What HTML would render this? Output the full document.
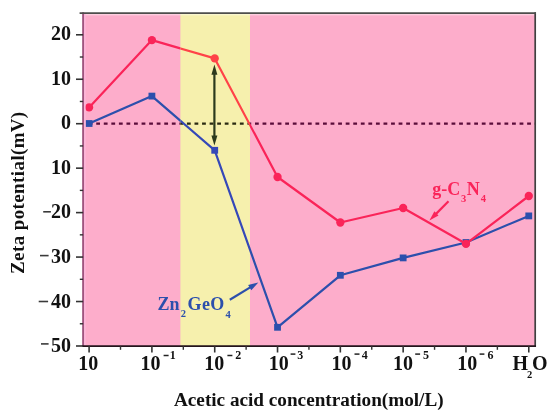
<!DOCTYPE html>
<html><head><meta charset="utf-8"><style>
html,body{margin:0;padding:0;background:#fff;width:550px;height:418px;overflow:hidden}
svg{display:block;filter:blur(0.3px)}
</style></head><body>
<svg width="550" height="418" viewBox="0 0 550 418">
<defs><clipPath id="cy"><rect x="180.4" y="13.1" width="69.6" height="333.0"/></clipPath><clipPath id="cp"><path d="M0 0H180.4V418H0Z M250.0 0H550V418H250.0Z"/></clipPath></defs>
<rect x="83.1" y="13.1" width="452.1" height="333.0" fill="#fdadcb"/>
<rect x="180.4" y="13.1" width="69.6" height="333.0" fill="#f6f0ad"/>
<g clip-path="url(#cp)"><line x1="83.1" y1="123.70" x2="535.2" y2="123.70" stroke="#5a0c3a" stroke-width="2.3" stroke-dasharray="3.8 3.76" stroke-dashoffset="2.0"/><polyline points="89.10,123.5 151.91,96.1 214.72,150.3 277.53,327.3 340.34,275.3 403.15,257.9 465.96,242.5 528.77,215.9" fill="none" stroke="#2c4fac" stroke-width="2.2" stroke-linejoin="round"/><rect x="85.70" y="120.10" width="6.8" height="6.8" fill="#2c4fac"/><rect x="148.51" y="92.70" width="6.8" height="6.8" fill="#2c4fac"/><rect x="211.32" y="146.90" width="6.8" height="6.8" fill="#2c4fac"/><rect x="274.13" y="323.90" width="6.8" height="6.8" fill="#2c4fac"/><rect x="336.94" y="271.90" width="6.8" height="6.8" fill="#2c4fac"/><rect x="399.75" y="254.50" width="6.8" height="6.8" fill="#2c4fac"/><rect x="462.56" y="239.10" width="6.8" height="6.8" fill="#2c4fac"/><rect x="525.37" y="212.50" width="6.8" height="6.8" fill="#2c4fac"/><polyline points="89.10,107.4 151.91,40.1 214.72,58.4 277.53,177.0 340.34,222.5 403.15,208.0 465.96,243.8 528.77,196.0" fill="none" stroke="#fa2459" stroke-width="2.2" stroke-linejoin="round"/><circle cx="89.10" cy="107.4" r="4.15" fill="#fa2459"/><circle cx="151.91" cy="40.1" r="4.15" fill="#fa2459"/><circle cx="214.72" cy="58.4" r="4.15" fill="#fa2459"/><circle cx="277.53" cy="177.0" r="4.15" fill="#fa2459"/><circle cx="340.34" cy="222.5" r="4.15" fill="#fa2459"/><circle cx="403.15" cy="208.0" r="4.15" fill="#fa2459"/><circle cx="465.96" cy="243.8" r="4.15" fill="#fa2459"/><circle cx="528.77" cy="196.0" r="4.15" fill="#fa2459"/></g>
<g clip-path="url(#cy)"><line x1="83.1" y1="123.70" x2="535.2" y2="123.70" stroke="#2a2a12" stroke-width="2.3" stroke-dasharray="3.8 3.76" stroke-dashoffset="2.0"/><polyline points="89.10,123.5 151.91,96.1 214.72,150.3 277.53,327.3 340.34,275.3 403.15,257.9 465.96,242.5 528.77,215.9" fill="none" stroke="#3548b8" stroke-width="2.2" stroke-linejoin="round"/><rect x="85.70" y="120.10" width="6.8" height="6.8" fill="#3548b8"/><rect x="148.51" y="92.70" width="6.8" height="6.8" fill="#3548b8"/><rect x="211.32" y="146.90" width="6.8" height="6.8" fill="#3548b8"/><rect x="274.13" y="323.90" width="6.8" height="6.8" fill="#3548b8"/><rect x="336.94" y="271.90" width="6.8" height="6.8" fill="#3548b8"/><rect x="399.75" y="254.50" width="6.8" height="6.8" fill="#3548b8"/><rect x="462.56" y="239.10" width="6.8" height="6.8" fill="#3548b8"/><rect x="525.37" y="212.50" width="6.8" height="6.8" fill="#3548b8"/><polyline points="89.10,107.4 151.91,40.1 214.72,58.4 277.53,177.0 340.34,222.5 403.15,208.0 465.96,243.8 528.77,196.0" fill="none" stroke="#ff4348" stroke-width="2.2" stroke-linejoin="round"/><circle cx="89.10" cy="107.4" r="4.15" fill="#ff4348"/><circle cx="151.91" cy="40.1" r="4.15" fill="#ff4348"/><circle cx="214.72" cy="58.4" r="4.15" fill="#ff4348"/><circle cx="277.53" cy="177.0" r="4.15" fill="#ff4348"/><circle cx="340.34" cy="222.5" r="4.15" fill="#ff4348"/><circle cx="403.15" cy="208.0" r="4.15" fill="#ff4348"/><circle cx="465.96" cy="243.8" r="4.15" fill="#ff4348"/><circle cx="528.77" cy="196.0" r="4.15" fill="#ff4348"/></g>
<line x1="214.4" y1="72" x2="214.4" y2="138" stroke="#2c3a1c" stroke-width="2.2"/>
<polygon points="214.4,64.6 217.4,74.8 211.4,74.8" fill="#2c3a1c"/>
<polygon points="214.4,145.4 217.4,135.4 211.4,135.4" fill="#2c3a1c"/>
<line x1="448.5" y1="201.3" x2="435.75" y2="214.12" stroke="#fa2459" stroke-width="2.2"/><polygon points="429.4,220.5 434.40,211.37 438.51,215.46" fill="#fa2459"/>
<line x1="229.8" y1="299.7" x2="250.59" y2="287.15" stroke="#2c4fac" stroke-width="2.2"/><polygon points="258.3,282.5 251.34,290.32 248.14,285.01" fill="#2c4fac"/>
<rect x="84.0" y="14.0" width="450.3" height="1.4" fill="#fff" fill-opacity="0.4"/>
<rect x="84.0" y="14.0" width="1.6" height="331.2" fill="#feb8dc"/>
<line x1="83.1" y1="12.299999999999999" x2="83.1" y2="346.1" stroke="#a0557f" stroke-width="1.9"/>
<line x1="535.2" y1="12.299999999999999" x2="535.2" y2="346.90000000000003" stroke="#404040" stroke-width="1.7"/>
<line x1="79.6" y1="13.1" x2="536.0" y2="13.1" stroke="#4e4e4c" stroke-width="1.9"/>
<line x1="82.3" y1="346.1" x2="536.0" y2="346.1" stroke="#24141c" stroke-width="1.7"/>
<line x1="76.0" y1="34.79" x2="83.1" y2="34.79" stroke="#333333" stroke-width="1.6"/>
<line x1="76.0" y1="79.24" x2="83.1" y2="79.24" stroke="#333333" stroke-width="1.6"/>
<line x1="76.0" y1="123.70" x2="83.1" y2="123.70" stroke="#333333" stroke-width="1.6"/>
<line x1="76.0" y1="168.16" x2="83.1" y2="168.16" stroke="#333333" stroke-width="1.6"/>
<line x1="76.0" y1="212.61" x2="83.1" y2="212.61" stroke="#333333" stroke-width="1.6"/>
<line x1="76.0" y1="257.07" x2="83.1" y2="257.07" stroke="#333333" stroke-width="1.6"/>
<line x1="76.0" y1="301.53" x2="83.1" y2="301.53" stroke="#333333" stroke-width="1.6"/>
<line x1="76.0" y1="345.99" x2="83.1" y2="345.99" stroke="#333333" stroke-width="1.6"/>
<line x1="79.8" y1="57.01" x2="83.1" y2="57.01" stroke="#333333" stroke-width="1.4"/>
<line x1="79.8" y1="101.47" x2="83.1" y2="101.47" stroke="#333333" stroke-width="1.4"/>
<line x1="79.8" y1="145.93" x2="83.1" y2="145.93" stroke="#333333" stroke-width="1.4"/>
<line x1="79.8" y1="190.39" x2="83.1" y2="190.39" stroke="#333333" stroke-width="1.4"/>
<line x1="79.8" y1="234.84" x2="83.1" y2="234.84" stroke="#333333" stroke-width="1.4"/>
<line x1="79.8" y1="279.30" x2="83.1" y2="279.30" stroke="#333333" stroke-width="1.4"/>
<line x1="79.8" y1="323.76" x2="83.1" y2="323.76" stroke="#333333" stroke-width="1.4"/>
<line x1="89.10" y1="346.1" x2="89.10" y2="352.5" stroke="#333333" stroke-width="1.6"/>
<line x1="151.91" y1="346.1" x2="151.91" y2="352.5" stroke="#333333" stroke-width="1.6"/>
<line x1="214.72" y1="346.1" x2="214.72" y2="352.5" stroke="#333333" stroke-width="1.6"/>
<line x1="277.53" y1="346.1" x2="277.53" y2="352.5" stroke="#333333" stroke-width="1.6"/>
<line x1="340.34" y1="346.1" x2="340.34" y2="352.5" stroke="#333333" stroke-width="1.6"/>
<line x1="403.15" y1="346.1" x2="403.15" y2="352.5" stroke="#333333" stroke-width="1.6"/>
<line x1="465.96" y1="346.1" x2="465.96" y2="352.5" stroke="#333333" stroke-width="1.6"/>
<line x1="528.77" y1="346.1" x2="528.77" y2="352.5" stroke="#333333" stroke-width="1.6"/>
<line x1="120.50" y1="346.1" x2="120.50" y2="349.8" stroke="#333333" stroke-width="1.4"/>
<line x1="183.31" y1="346.1" x2="183.31" y2="349.8" stroke="#333333" stroke-width="1.4"/>
<line x1="246.12" y1="346.1" x2="246.12" y2="349.8" stroke="#333333" stroke-width="1.4"/>
<line x1="308.94" y1="346.1" x2="308.94" y2="349.8" stroke="#333333" stroke-width="1.4"/>
<line x1="371.75" y1="346.1" x2="371.75" y2="349.8" stroke="#333333" stroke-width="1.4"/>
<line x1="434.56" y1="346.1" x2="434.56" y2="349.8" stroke="#333333" stroke-width="1.4"/>
<line x1="497.37" y1="346.1" x2="497.37" y2="349.8" stroke="#333333" stroke-width="1.4"/>
<text x="71.0" y="40.30" font-family="Liberation Serif" font-weight="bold" font-size="20" text-anchor="end" fill="#111">20</text>
<text x="71.0" y="84.90" font-family="Liberation Serif" font-weight="bold" font-size="20" text-anchor="end" fill="#111">10</text>
<text x="71.0" y="129.40" font-family="Liberation Serif" font-weight="bold" font-size="20" text-anchor="end" fill="#111">0</text>
<text x="71.0" y="174.00" font-family="Liberation Serif" font-weight="bold" font-size="20" text-anchor="end" fill="#111">10</text>
<text x="71.0" y="218.30" font-family="Liberation Serif" font-weight="bold" font-size="20" text-anchor="end" fill="#111">20</text>
<text x="71.0" y="262.80" font-family="Liberation Serif" font-weight="bold" font-size="20" text-anchor="end" fill="#111">30</text>
<text x="71.0" y="307.60" font-family="Liberation Serif" font-weight="bold" font-size="20" text-anchor="end" fill="#111">40</text>
<text x="71.0" y="351.60" font-family="Liberation Serif" font-weight="bold" font-size="20" text-anchor="end" fill="#111">50</text>
<line x1="43.2" y1="211.8" x2="50.9" y2="211.8" stroke="#3a3a3a" stroke-width="1.6"/>
<line x1="40.0" y1="255.6" x2="48.6" y2="255.6" stroke="#3a3a3a" stroke-width="1.6"/>
<line x1="38.7" y1="301.5" x2="48.1" y2="301.5" stroke="#3a3a3a" stroke-width="1.6"/>
<line x1="41.0" y1="343.9" x2="48.6" y2="343.9" stroke="#3a3a3a" stroke-width="1.6"/>
<text x="88.20" y="369.6" font-family="Liberation Serif" font-weight="bold" font-size="20" text-anchor="middle" fill="#111">10</text>
<text x="150.55" y="369.6" font-family="Liberation Serif" font-weight="bold" font-size="20" text-anchor="middle" fill="#111">10</text>
<line x1="163.60" y1="355.5" x2="168.60" y2="355.5" stroke="#222" stroke-width="1.5"/>
<text x="172.85" y="359.3" font-family="Liberation Serif" font-weight="bold" font-size="12" text-anchor="middle" fill="#111">1</text>
<text x="214.25" y="369.6" font-family="Liberation Serif" font-weight="bold" font-size="20" text-anchor="middle" fill="#111">10</text>
<line x1="227.40" y1="355.5" x2="232.40" y2="355.5" stroke="#222" stroke-width="1.5"/>
<text x="238.25" y="359.3" font-family="Liberation Serif" font-weight="bold" font-size="12" text-anchor="middle" fill="#111">2</text>
<text x="278.65" y="369.6" font-family="Liberation Serif" font-weight="bold" font-size="20" text-anchor="middle" fill="#111">10</text>
<line x1="290.60" y1="354.1" x2="295.40" y2="354.1" stroke="#222" stroke-width="1.5"/>
<text x="300.25" y="359.3" font-family="Liberation Serif" font-weight="bold" font-size="12" text-anchor="middle" fill="#111">3</text>
<text x="341.50" y="369.6" font-family="Liberation Serif" font-weight="bold" font-size="20" text-anchor="middle" fill="#111">10</text>
<line x1="354.50" y1="354.1" x2="359.50" y2="354.1" stroke="#222" stroke-width="1.5"/>
<text x="364.65" y="359.3" font-family="Liberation Serif" font-weight="bold" font-size="12" text-anchor="middle" fill="#111">4</text>
<text x="402.90" y="369.6" font-family="Liberation Serif" font-weight="bold" font-size="20" text-anchor="middle" fill="#111">10</text>
<line x1="415.20" y1="354.1" x2="420.10" y2="354.1" stroke="#222" stroke-width="1.5"/>
<text x="426.05" y="359.3" font-family="Liberation Serif" font-weight="bold" font-size="12" text-anchor="middle" fill="#111">5</text>
<text x="467.30" y="369.6" font-family="Liberation Serif" font-weight="bold" font-size="20" text-anchor="middle" fill="#111">10</text>
<line x1="479.60" y1="354.1" x2="484.40" y2="354.1" stroke="#222" stroke-width="1.5"/>
<text x="490.45" y="359.3" font-family="Liberation Serif" font-weight="bold" font-size="12" text-anchor="middle" fill="#111">6</text>
<text x="512.5" y="370.2" font-family="Liberation Serif" font-weight="bold" font-size="20" fill="#111">H<tspan font-size="10.5" dy="7.6" dx="-1.0">2</tspan><tspan dy="-7.6" dx="-0.2">O</tspan></text>
<text x="174" y="406.2" font-family="Liberation Serif" font-weight="bold" font-size="19.2" fill="#111">Acetic acid concentration(mol/L)</text>
<text transform="translate(24.3,274.0) rotate(-90)" font-family="Liberation Serif" font-weight="bold" font-size="19" fill="#111"><tspan letter-spacing="0.4">Zeta potential</tspan><tspan letter-spacing="0.3">(mV)</tspan></text>
<text x="432.2" y="194.8" font-family="Liberation Serif" font-weight="bold" font-size="18" fill="#fa2459">g-C<tspan font-size="10.5" dy="6.9" dx="0.8">3</tspan><tspan dy="-6.9" dx="0.6">N</tspan><tspan font-size="10.5" dy="7.3" dx="1">4</tspan></text>
<text x="157.6" y="309.5" font-family="Liberation Serif" font-weight="bold" font-size="18" fill="#2c4fac">Zn<tspan font-size="10.5" dy="7.3" dx="1">2</tspan><tspan dy="-7.3" dx="1.5" letter-spacing="0.5">GeO</tspan><tspan font-size="10.5" dy="8.2" dx="0.7">4</tspan></text>
</svg>
</body></html>
